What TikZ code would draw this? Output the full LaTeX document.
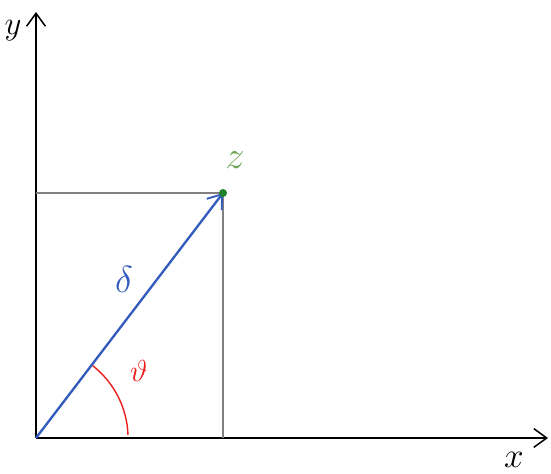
\documentclass[tikz,border=0pt]{standalone}
\usepackage{graphicx}
\usetikzlibrary{positioning,arrows.meta}
\definecolor{vecblue}{RGB}{52,92,190}
\definecolor{ptgreen}{RGB}{30,130,40}
\definecolor{lblgreen}{RGB}{110,165,85}
\definecolor{angred}{RGB}{235,30,30}
\newcommand{\biglbl}[2]{\scalebox{#1}{\huge$#2$}}
\tikzset{
  axis/.style={-{Straight Barb[length=11pt,width=16pt,line width=1.3pt]},line width=1.5pt},
  proj/.style={gray,line width=1.1pt},
  lbl/.style={inner sep=0pt}
}
\begin{document}
\begin{tikzpicture}[x=0.03cm,y=0.03cm]
\useasboundingbox (-36,-36) rectangle (515,438);
\coordinate (O) at (0,0);
\coordinate (xend) at (512,0);
\coordinate (yend) at (0,426);
\coordinate (z) at (187,245);
\coordinate (zy) at (0,245);
\coordinate (zx) at (187,0);
\draw[axis] (O) -- (xend);
\draw[axis] (O) -- (yend);
\draw[proj] (zy) -- (z) -- (zx);
\draw[-{Straight Barb[length=11pt,width=16pt,line width=1.6pt]},vecblue,line width=2pt] (O) -- (z);
\fill[ptgreen] (z) circle(4);
\draw[angred,line width=1.2pt] (92,3) arc(2:52:92);
\node[lbl] (ylbl) at (-23,407) {\biglbl{1.35}{y}};
\node[lbl] (xlbl) at (478,-22) {\biglbl{1.45}{x}};
\node[lbl,text=lblgreen] (zlbl) at (199,278) {\biglbl{1.6}{z}};
\node[lbl,text=vecblue] (dlbl) at (88,159) {\biglbl{1.55}{\delta}};
\node[lbl,text=angred] (tlbl) at (103,67) {\biglbl{1.25}{\vartheta}};
\end{tikzpicture}
\end{document}
